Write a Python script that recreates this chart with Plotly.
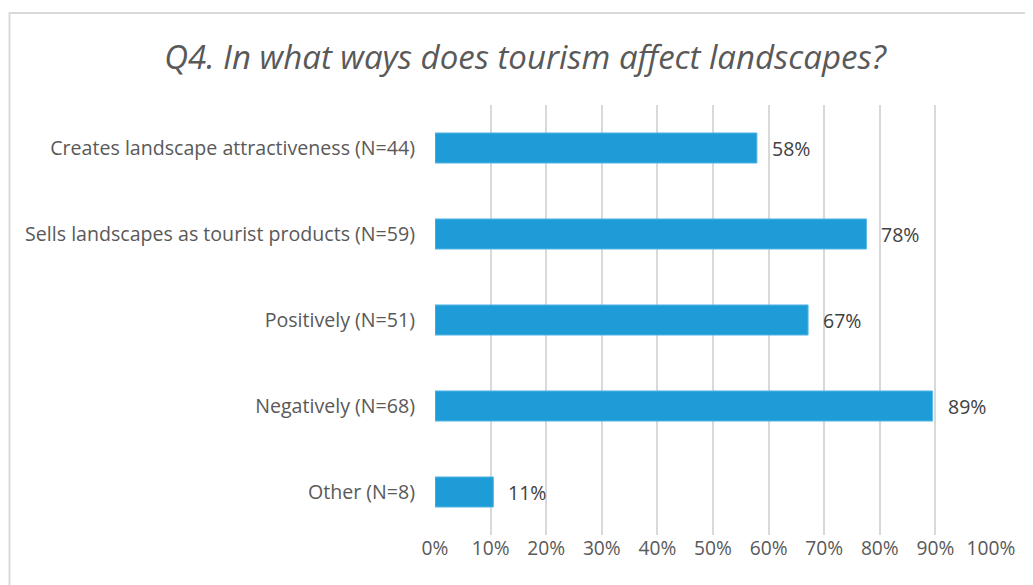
import plotly.graph_objects as go

categories = [
    "Creates landscape attractiveness (N=44)",
    "Sells landscapes as tourist products (N=59)",
    "Positively (N=51)",
    "Negatively (N=68)",
    "Other (N=8)",
]
values = [57.9, 77.6, 67.1, 89.5, 10.5]
value_labels = ["58%", "78%", "67%", "89%", "11%"]
tick_vals = [0, 10, 20, 30, 40, 50, 60, 70, 80, 90, 100]
tick_text = ["0%", "10%", "20%", "30%", "40%", "50%", "60%", "70%", "80%", "90%", "100%"]
title_text = "Q4. In what ways does tourism affect landscapes?"

FONT = "Open Sans"
BAR = "#1E9CD8"
GREY = "#595959"

L, R, T, B = 427, 50, 97, 58
PW, PH = 1033 - L - R, 585 - T - B

fig = go.Figure()
fig.add_trace(go.Bar(
    y=categories, x=values, orientation="h",
    marker=dict(color=BAR, line=dict(color="#5bb8e6", width=1)),
    width=0.35, hoverinfo="skip",
))

for c, v, t in zip(categories, values, value_labels):
    fig.add_annotation(x=v, y=c, text=t, showarrow=False, xanchor="left",
                       xshift=13, font=dict(family=FONT, size=19.5, color="#404040"))

fig.add_shape(type="rect", xref="paper", yref="paper",
              x0=(1.5 - L) / PW, x1=1.3, y0=-0.3, y1=(PH + T - 5) / PH,
              line=dict(color="#d9d9d9", width=2), fillcolor="rgba(0,0,0,0)", layer="below")

fig.update_layout(
    width=1033, height=585,
    margin=dict(l=L, r=R, t=T, b=B),
    paper_bgcolor="white", plot_bgcolor="white",
    showlegend=False,
    title=dict(text=title_text, x=0.5005, xanchor="center", y=0.916, yanchor="middle",
               font=dict(family=FONT, size=33, color=GREY, style="italic")),
    xaxis=dict(range=[0, 100], tickvals=tick_vals, ticktext=tick_text,
               showgrid=True, gridcolor="#d9d9d9", gridwidth=1.5,
               zeroline=False, showline=False,
               ticks="", ticklabelstandoff=0,
               tickfont=dict(family=FONT, size=19.2, color=GREY), fixedrange=True),
    yaxis=dict(categoryorder="array", categoryarray=categories[::-1],
               showgrid=False, zeroline=False, showline=False,
               ticks="", ticklabelstandoff=19,
               tickfont=dict(family=FONT, size=19.6, color=GREY), fixedrange=True),
    bargap=0.65,
)

fig.write_html("out.html")
